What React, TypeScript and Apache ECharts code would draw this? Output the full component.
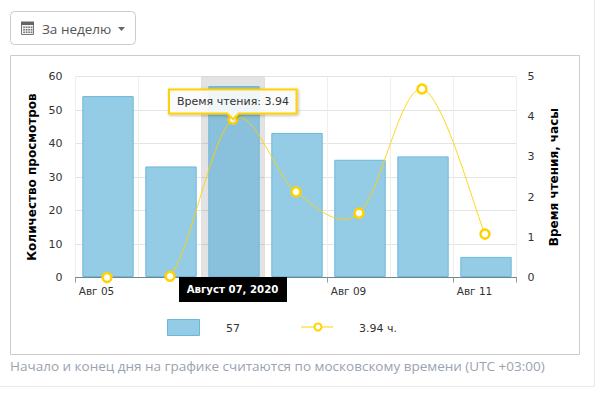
import React, { useEffect, useRef } from "react";
import * as echarts from "echarts";

const categories = ["Авг 05", "Авг 06", "Авг 07", "Авг 08", "Авг 09", "Авг 10", "Авг 11"];
const views = [54, 33, 57, 43, 35, 36, 6];
const readingHours = [0, 0.03, 3.94, 2.13, 1.6, 4.69, 1.08];
const highlight = [null, null, 60, null, null, null, null];
const ACTIVE_INDEX = 2;
const FONT = "'DejaVu Sans', Verdana, sans-serif";
const TEXT = "#333333";
const YELLOW = "#ffd200";

function renderCurve(params: any, api: any) {
  const i = params.dataIndex;
  if (i >= readingHours.length - 1) return { type: "group", children: [] };
  const pt = (k: number) => {
    const c = Math.max(0, Math.min(readingHours.length - 1, k));
    return api.coord([c, readingHours[c]]);
  };
  const p0 = pt(i - 1), p1 = pt(i), p2 = pt(i + 1), p3 = pt(i + 2);
  return {
    type: "bezierCurve",
    shape: {
      x1: p1[0], y1: p1[1], x2: p2[0], y2: p2[1],
      cpx1: p1[0] + (p2[0] - p0[0]) / 6,
      cpy1: p1[1] + (p2[1] - p0[1]) / 6,
      cpx2: p2[0] - (p3[0] - p1[0]) / 6,
      cpy2: p2[1] - (p3[1] - p1[1]) / 6,
    },
    style: { stroke: YELLOW, lineWidth: 1, fill: "none", opacity: 0.9 },
  };
}

export default function App() {
  const ref = useRef<HTMLDivElement>(null);
  useEffect(() => {
    const chart = echarts.init(ref.current!, null, { renderer: "svg" });
    const calCells: any[] = [];
    for (let r = 0; r < 3; r++) {
      for (let c = 0; c < 4; c++) {
        calCells.push({
          type: "rect",
          z: 3,
          shape: { x: 23.2 + c * 2.5, y: 26.5 + r * 2.5, width: 1.7, height: 1.6 },
          style: { fill: "#777" },
        });
      }
    }
    chart.setOption({
      animation: false,
      backgroundColor: "#fff",
      textStyle: { fontFamily: FONT },
      grid: [
        { left: 75.5, top: 76.5, width: 441, height: 201 },
        { left: 76.5, top: 76, width: 441, height: 201 },
      ],
      xAxis: [
        {
          type: "category",
          gridIndex: 0,
          data: categories,
          axisLine: { lineStyle: { color: "#6f8791", width: 1 } },
          axisTick: { show: true, interval: 1, length: 5, lineStyle: { color: "#999" } },
          splitLine: { show: true, interval: 0, lineStyle: { color: "#eeeeee" } },
          axisLabel: {
            interval: (i: number) => i % 2 === 0 && i !== ACTIVE_INDEX,
            color: TEXT,
            fontFamily: FONT,
            fontSize: 10.5,
            margin: 8,
            padding: [0, 21, 0, 0],
          },
        },
        {
          type: "category",
          gridIndex: 1,
          data: categories,
          show: false,
        },
      ],
      yAxis: [
        {
          type: "value",
          gridIndex: 0,
          min: 0,
          max: 60,
          interval: 10,
          name: "Количество просмотров",
          nameLocation: "middle",
          nameGap: 34,
          nameTextStyle: { fontFamily: FONT, fontSize: 12, fontWeight: "bold", color: "#000" },
          axisLine: { show: false },
          axisTick: { show: false },
          splitLine: { lineStyle: { color: "#e4e4e4" } },
          axisLabel: { color: TEXT, fontFamily: FONT, fontSize: 11, margin: 13 },
        },
        {
          type: "value",
          gridIndex: 0,
          position: "right",
          min: 0,
          max: 5,
          interval: 1,
          name: "Время чтения, часы",
          nameLocation: "middle",
          nameGap: 31,
          nameTextStyle: { fontFamily: FONT, fontSize: 12, fontWeight: "bold", color: "#000" },
          axisLine: { show: false },
          axisTick: { show: false },
          splitLine: { show: false },
          axisLabel: { color: TEXT, fontFamily: FONT, fontSize: 11, margin: 11 },
        },
        { type: "value", gridIndex: 1, min: 0, max: 60, show: false },
      ],
      series: [
        {
          name: "Выделение",
          type: "bar",
          xAxisIndex: 0,
          yAxisIndex: 0,
          data: highlight,
          barWidth: "100%",
          z: 1,
          itemStyle: { color: "rgba(0,0,0,0.11)" },
        },
        {
          name: "Количество просмотров",
          type: "bar",
          xAxisIndex: 1,
          yAxisIndex: 2,
          data: views.map((v, i) => (i === ACTIVE_INDEX ? { value: v, itemStyle: { color: "#89c0db" } } : v)),
          barWidth: "81.5%",
          z: 2,
          itemStyle: { color: "#94cce6", borderColor: "#6db7da", borderWidth: 1 },
        },
        {
          name: "Время чтения (кривая)",
          type: "custom",
          xAxisIndex: 0,
          yAxisIndex: 1,
          data: readingHours.map((v, i) => [i, v]),
          encode: { x: 0, y: 1 },
          renderItem: renderCurve,
          clip: true,
          z: 4,
        },
        {
          name: "Время чтения",
          type: "line",
          xAxisIndex: 0,
          yAxisIndex: 1,
          data: readingHours,
          z: 5,
          clip: false,
          symbol: "circle",
          symbolSize: 9,
          showAllSymbol: true,
          lineStyle: { width: 0 },
          itemStyle: { color: "#fff", borderColor: YELLOW, borderWidth: 2.5 },
        },
      ],
      graphic: [
        // outer faint borders
        { type: "line", z: 0, shape: { x1: 594.5, y1: 0, x2: 594.5, y2: 386 }, style: { stroke: "#e3ecee", lineWidth: 1 } },
        { type: "line", z: 0, shape: { x1: 0, y1: 386.5, x2: 595, y2: 386.5 }, style: { stroke: "#e3ecee", lineWidth: 1 } },
        // button
        { type: "rect", z: 0, shape: { x: 10.5, y: 11.5, width: 125, height: 33, r: 4 }, style: { fill: "#fff", stroke: "#cccccc", lineWidth: 1 } },
        { type: "rect", z: 1, shape: { x: 21.5, y: 22.5, width: 12, height: 12 }, style: { fill: "#f4f4f4", stroke: "#777", lineWidth: 1 } },
        { type: "rect", z: 2, shape: { x: 21, y: 21.5, width: 13, height: 3.5 }, style: { fill: "#666" } },
        { type: "group", children: calCells },
        { type: "text", z: 1, style: { x: 42, y: 29, text: "За неделю", font: "13.5px 'Open Sans', sans-serif", fill: "#555", verticalAlign: "middle" } },
        { type: "polygon", z: 1, shape: { points: [[118, 27], [125, 27], [121.5, 31]] }, style: { fill: "#666" } },
        // frame
        { type: "rect", z: -1, shape: { x: 10.5, y: 55.5, width: 569, height: 299 }, style: { fill: "none", stroke: "#cccccc", lineWidth: 1 } },
        // balloon
        {
          type: "polygon",
          z: 50,
          shape: { points: [[169, 89.5], [296.5, 89.5], [296.5, 113.5], [239, 113.5], [233, 119], [227, 113.5], [169, 113.5]] },
          style: { fill: "rgba(255,255,255,0.88)", stroke: YELLOW, lineWidth: 2, shadowColor: "rgba(0,0,0,0.3)", shadowBlur: 3, shadowOffsetX: 1, shadowOffsetY: 1 },
        },
        { type: "text", z: 51, style: { x: 233, y: 101.5, text: "Время чтения: 3.94", font: "11px " + FONT, fill: TEXT, align: "center", verticalAlign: "middle" } },
        // category cursor label
        { type: "rect", z: 50, shape: { x: 179, y: 277, width: 108, height: 25 }, style: { fill: "#000" } },
        { type: "text", z: 51, style: { x: 232.5, y: 289.5, text: "Август 07, 2020", font: "bold 10.2px " + FONT, fill: "#fff", align: "center", verticalAlign: "middle" } },
        // legend
        { type: "rect", z: 10, shape: { x: 167.5, y: 319.5, width: 32, height: 16 }, style: { fill: "#94cce6", stroke: "#6db7da", lineWidth: 1 } },
        { type: "text", z: 10, style: { x: 226, y: 328, text: "57", font: "11px " + FONT, fill: TEXT, verticalAlign: "middle" } },
        { type: "line", z: 10, shape: { x1: 301, y1: 327, x2: 333, y2: 327 }, style: { stroke: YELLOW, lineWidth: 1 } },
        { type: "circle", z: 11, shape: { cx: 318, cy: 327, r: 3.5 }, style: { fill: "#fff", stroke: YELLOW, lineWidth: 2 } },
        { type: "text", z: 10, style: { x: 359, y: 328, text: "3.94 ч.", font: "11px " + FONT, fill: TEXT, verticalAlign: "middle" } },
        // note
        { type: "text", z: 10, style: { x: 10, y: 366, text: "Начало и конец дня на графике считаются по московскому времени (UTC +03:00)", font: "13.5px 'Open Sans', sans-serif", fill: "#9aa3b0", verticalAlign: "middle" } },
      ],
    });
    return () => chart.dispose();
  }, []);
  return <div ref={ref} style={{ position: "absolute", left: 0, top: 0, width: 599, height: 395 }} />;
}
